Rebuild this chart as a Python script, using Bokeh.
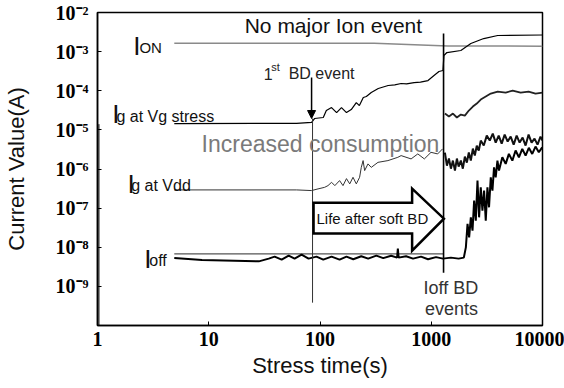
from bokeh.plotting import figure
from bokeh.models import Range1d, FixedTicker, CustomJSTickFormatter, Label, Arrow, NormalHead
from bokeh.embed import file_html
from bokeh.resources import INLINE

# ---------------- data ----------------
x_ticks = [1, 10, 100, 1000, 10000]
x_tick_labels = ["1", "10", "100", "1000", "10000"]
y_ticks = [1e-9, 1e-8, 1e-7, 1e-6, 1e-5, 1e-4, 1e-3, 1e-2]
y_tick_labels = ["10⁻⁹", "10⁻⁸", "10⁻⁷", "10⁻⁶", "10⁻⁵", "10⁻⁴", "10⁻³", "10⁻²"]

# I_ON (grey)
ion_t = [4.9, 307, 1413, 10000]
ion_i = [1.64e-3, 1.64e-3, 1.40e-3, 1.38e-3]

# initial spike near t = 1 s
init_t = [1.03, 1.03]
init_i = [1.4e-5, 1e-10]

# Ig at Vg stress
igvg_t = [4.9, 61.6, 84, 89.3, 107, 114, 127, 141, 156, 173, 191, 212, 226, 245, 261, 289,
          334, 410, 470, 536, 600, 701, 800, 935, 1059, 1173, 1274, 1300, 1383, 1846, 2269,
          2965, 3955, 10000]
igvg_i = [1.45e-5, 1.47e-5, 1.56e-5, 1.95e-5, 2.07e-5, 3.12e-5, 3.72e-5, 2.77e-5, 3.72e-5,
          2.77e-5, 3.31e-5, 4.99e-5, 4.18e-5, 6.7e-5, 7.11e-5, 9.0e-5, 1.14e-4, 1.36e-4,
          1.42e-4, 1.53e-4, 1.50e-4, 1.62e-4, 1.66e-4, 1.82e-4, 2.45e-4, 3.10e-4, 3.29e-4,
          7.94e-4, 9.48e-4, 1.07e-3, 1.61e-3, 2.16e-3, 2.58e-3, 2.66e-3]

# Ig at Vdd (before hard BD)
igvdd_t = [4.9, 61.6, 84, 96, 110, 118, 127, 136, 150, 161, 173, 185, 198, 212, 227, 235,
           244, 252, 270, 289, 332, 408, 501, 536, 659, 757, 867, 995, 1142, 1265]
igvdd_i = [2.92e-7, 2.92e-7, 2.81e-7, 3.10e-7, 3.40e-7, 3.76e-7, 4.57e-7, 3.76e-7, 5.05e-7,
           3.76e-7, 5.68e-7, 4.16e-7, 6.14e-7, 4.16e-7, 6.14e-7, 1.10e-6, 1.64e-6, 9.1e-7,
           1.35e-6, 1.10e-6, 1.48e-6, 1.64e-6, 1.99e-6, 2.20e-6, 1.81e-6, 2.43e-6, 1.81e-6,
           2.67e-6, 2.43e-6, 3.27e-6]

# Ig at Vdd (after hard BD, noisy)
igvdd2_t = [1327, 1383, 1442, 1502, 1566, 1633, 1700, 1763, 1846, 1923, 2005, 2089, 2177,
            2269, 2366, 2464, 2566, 2674, 2786, 2965, 3155, 3357, 3573, 3796, 4039, 4297,
            4571, 4864, 5175, 5506, 5856, 6230, 6627, 7047, 7498, 7977, 8480, 9020, 9594, 10000]
igvdd2_i = [2.63e-6, 1.22e-6, 1.85e-6, 1.02e-6, 1.64e-6, 9.1e-7, 1.85e-6, 1.15e-6, 1.64e-6,
            1.02e-6, 2.07e-6, 1.46e-6, 2.63e-6, 1.64e-6, 3.32e-6, 2.20e-6, 3.97e-6, 2.96e-6,
            5.32e-6, 3.97e-6, 7.14e-6, 5.32e-6, 8.03e-6, 4.73e-6, 7.14e-6, 4.46e-6, 7.58e-6,
            5.02e-6, 6.74e-6, 4.21e-6, 7.14e-6, 4.73e-6, 6.36e-6, 3.97e-6, 7.58e-6, 4.73e-6,
            5.99e-6, 4.21e-6, 6.74e-6, 5.32e-6]

# second off-state trace (grey) and its level after hard BD
ioff2_t = [4.9, 1290]
ioff2_i = [6.74e-9, 6.74e-9]
ihbd_t = [1327, 1442, 1566, 1700, 1846, 2005, 2177, 2366, 2566, 2786, 3090, 3428, 3955,
          4667, 5395, 6357, 7498, 8654, 10000]
ihbd_i = [2.61e-5, 2.19e-5, 2.61e-5, 2.07e-5, 2.46e-5, 2.32e-5, 3.12e-5, 3.94e-5, 4.71e-5,
          5.96e-5, 7.11e-5, 8.48e-5, 9.54e-5, 8.99e-5, 1.01e-4, 8.99e-5, 9.54e-5, 8.48e-5,
          8.99e-5]

# I_off (black)
ioff_t = [4.9, 8.7, 28.2, 34.6, 39.1, 45.2, 52.3, 59.1, 68.3, 78.9, 93.0, 107, 127, 150,
          173, 199, 235, 271, 321, 370, 436, 493, 501, 509, 594, 686, 809, 935, 1104, 1274,
          1502, 1763, 1963, 2047, 2119, 2191, 2269, 2349, 2429, 2514, 2604, 2692, 2786,
          2884, 2985, 3090, 3199, 3306, 3428, 3548, 3667, 3796, 3935, 4064, 4355, 4667,
          4989, 5358, 5730, 6137, 6580, 7047, 7537, 8083, 8654, 9268, 9934]
ioff_i = [5.33e-9, 4.73e-9, 4.36e-9, 5.12e-9, 5.75e-9, 4.82e-9, 6.09e-9, 5.12e-9, 6.47e-9,
          5.12e-9, 5.75e-9, 4.82e-9, 5.75e-9, 4.82e-9, 5.75e-9, 4.95e-9, 5.9e-9, 5.12e-9,
          6.09e-9, 5.27e-9, 6.09e-9, 5.43e-9, 9.2e-9, 5.43e-9, 5.9e-9, 5.12e-9, 5.75e-9,
          4.95e-9, 5.6e-9, 5.12e-9, 5.43e-9, 5.12e-9, 5.43e-9, 9.93e-9, 3.95e-8, 1.79e-8,
          5.82e-8, 2.66e-8, 1.56e-7, 4.79e-8, 5.05e-7, 5.82e-8, 3.40e-7, 8.63e-8, 2.81e-7,
          4.79e-8, 3.40e-7, 1.05e-7, 6.14e-7, 2.81e-7, 1.10e-6, 6.14e-7, 1.64e-6, 9.10e-7,
          1.99e-6, 1.35e-6, 2.43e-6, 1.64e-6, 2.96e-6, 1.99e-6, 3.27e-6, 2.20e-6, 3.47e-6,
          2.43e-6, 3.74e-6, 2.67e-6, 3.57e-6]

# annotation markers
first_bd_t = 85.7
ioff_bd_t = 1290

# ---------------- figure ----------------
p = figure(width=564, height=388, x_axis_type="log", y_axis_type="log",
           x_range=Range1d(1, 10000), y_range=Range1d(1e-10, 1e-2),
           output_backend="svg", toolbar_location=None,
           min_border_left=95, min_border_right=22, min_border_top=12, min_border_bottom=63)
p.background_fill_color = "white"
p.border_fill_color = "white"
p.outline_line_color = "black"
p.outline_line_width = 1.5
p.grid.visible = False

SERIF = "Liberation Serif"
SANS = "Liberation Sans"

for ax in (p.xaxis[0], p.yaxis[0]):
    ax.axis_line_color = "black"
    ax.axis_line_width = 1.5
    ax.major_tick_in = 4
    ax.major_tick_out = 0
    ax.major_tick_line_color = "black"
    ax.minor_tick_line_color = None
    ax.major_label_text_font = SERIF
    ax.major_label_text_font_style = "bold"
    ax.major_label_text_font_size = "20px"
    ax.major_label_text_color = "black"
    ax.axis_label_text_font = SANS
    ax.axis_label_text_font_style = "normal"
    ax.axis_label_text_font_size = "22px"
    ax.axis_label_text_color = "#111111"

FMT_CODE = """
let best = 0, bd = Infinity;
for (let i = 0; i < tvals.length; i++) {
  const d = Math.abs(Math.log10(tick) - Math.log10(tvals[i]));
  if (d < bd) { bd = d; best = i; }
}
return tlabels[best];
"""
p.xaxis.ticker = FixedTicker(ticks=x_ticks)
p.xaxis.formatter = CustomJSTickFormatter(args=dict(tvals=x_ticks, tlabels=x_tick_labels), code=FMT_CODE)
p.yaxis.ticker = FixedTicker(ticks=y_ticks)
p.yaxis.formatter = CustomJSTickFormatter(args=dict(tvals=y_ticks, tlabels=y_tick_labels), code=FMT_CODE)
p.xaxis.axis_label = "Stress time(s)"
p.yaxis.axis_label = "Current Value(A)"
p.xaxis.major_label_standoff = 6
p.xaxis.axis_label_standoff = 4
p.yaxis.major_label_standoff = 9
p.yaxis.axis_label_standoff = 24

# ---------------- series ----------------
p.line(init_t, init_i, line_color="black", line_width=1)
p.line(ion_t, ion_i, line_color="#8a8a8a", line_width=1.5)
p.line(ioff2_t, ioff2_i, line_color="#555555", line_width=1.2)
p.line(ihbd_t, ihbd_i, line_color="#222222", line_width=1.8)
p.line(igvg_t, igvg_i, line_color="black", line_width=1.2)
p.line(igvdd_t, igvdd_i, line_color="#333333", line_width=1)
p.line(igvdd2_t, igvdd2_i, line_color="#111111", line_width=2)
p.line(ioff_t, ioff_i, line_color="black", line_width=2)

# ---------------- annotations ----------------
p.line([first_bd_t, first_bd_t], [1.95e-5, 3.83e-10], line_color="#333333", line_width=1)
p.line([ioff_bd_t, ioff_bd_t], [2.90e-3, 2.24e-9], line_color="black", line_width=1.6)

p.add_layout(Arrow(end=NormalHead(size=8, fill_color="black", line_color="black"),
                   x_start=84, y_start=2.18e-4, x_end=84, y_end=1.95e-5,
                   line_color="black", line_width=1.5))

p.patch([87.5, 673, 673, 1300, 673, 673, 87.5],
        [1.38e-7, 1.38e-7, 3.15e-7, 5.38e-8, 8.19e-9, 2.23e-8, 2.23e-8],
        fill_color="white", line_color="black", line_width=2.5, line_join="miter")


def label(x, y, text, size, color="#111111", align="left", baseline="alphabetic", font=SANS):
    p.add_layout(Label(x=x, y=y, text=text, text_font=font, text_font_size=size,
                       text_color=color, text_align=align, text_baseline=baseline))


label(132, 4.66e-3, "No major Ion event", "21px", align="center", baseline="middle")
label(101, 4.47e-6, "Increased consumption", "23px", color="#7a7a7a", align="center", baseline="middle")
label(93, 5.38e-8, "Life after soft BD", "15px", baseline="middle")
label(1503, 9.27e-10, "Ioff BD", "18px", color="#333333", align="center", baseline="middle")
label(1520, 2.69e-10, "events", "18px", color="#333333", align="center", baseline="middle")

label(31.2, 2.75e-4, "1", "16px", color="#222222")
label(36.5, 4.0e-4, "st", "11px", color="#222222")
label(52.3, 2.75e-4, "BD event", "16px", color="#222222")

label(2.10, 1.43e-3, "I", "26px")
label(2.38, 1.27e-3, "ON", "15px")
label(1.36, 2.61e-5, "I", "26px")
label(1.48, 2.19e-5, "g at Vg stress", "16px")
label(1.86, 4.24e-7, "I", "26px")
label(2.01, 3.76e-7, "g at Vdd", "16px")
label(2.63, 5.1e-9, "I", "26px")
label(2.92, 4.54e-9, "off", "16px")

open("out.html", "w").write(file_html(p, INLINE))
